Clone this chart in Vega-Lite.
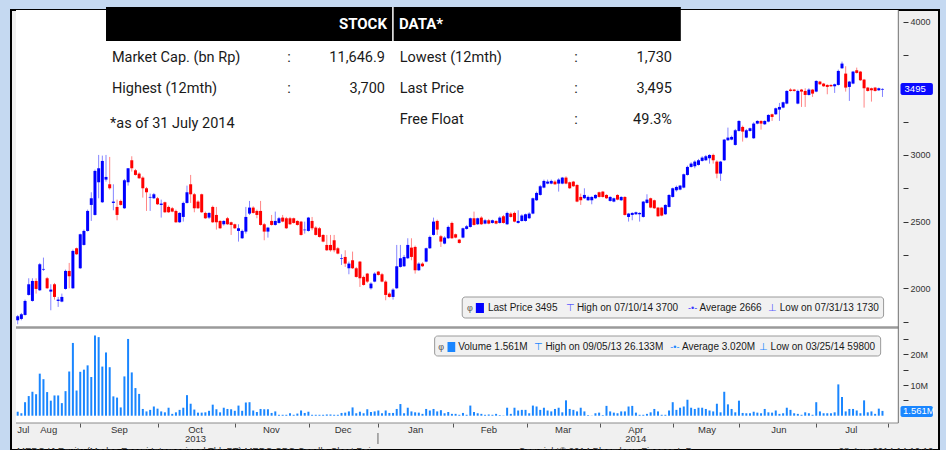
{
  "$schema": "https://vega.github.io/schema/vega-lite/v6.json",
  "width": 928,
  "height": 440,
  "autosize": {"type": "none"},
  "padding": {"left": 11, "top": 10, "right": 7, "bottom": 0},
  "background": "#c5d9f1",
  "config": {
    "view": {"fill": "#f0f0f0", "stroke": "#000000", "strokeWidth": 2},
    "text": {"font": "Liberation Sans", "fontSize": 10, "color": "#1a1a1a"},
    "axis": {"grid": false, "domain": false, "labelFont": "Liberation Sans", "labelColor": "#333333", "tickColor": "#333333", "zindex": 1}
  },
  "datasets": {
    "px": [
      {"i":0,"o":1760,"h":1800,"l":1730,"c":1790,"v":1.3},
      {"i":1,"o":1770,"h":1815,"l":1760,"c":1805,"v":0.8},
      {"i":2,"o":1800,"h":1915,"l":1795,"c":1905,"v":4.4},
      {"i":3,"o":1950,"h":2075,"l":1945,"c":2030,"v":6.4},
      {"i":4,"o":1905,"h":2075,"l":1900,"c":2055,"v":7.8},
      {"i":5,"o":2055,"h":2075,"l":1960,"c":1995,"v":7.0},
      {"i":6,"o":1985,"h":2190,"l":1980,"c":2180,"v":13.7},
      {"i":7,"o":2140,"h":2230,"l":2130,"c":2145,"v":11.9},
      {"i":8,"o":2075,"h":2085,"l":1995,"c":2000,"v":7.7},
      {"i":9,"o":1975,"h":2030,"l":1835,"c":1990,"v":4.9},
      {"i":10,"o":2030,"h":2040,"l":1915,"c":1935,"v":6.6},
      {"i":11,"o":1905,"h":1935,"l":1860,"c":1915,"v":6.6},
      {"i":12,"o":1900,"h":1960,"l":1895,"c":1935,"v":4.1},
      {"i":13,"o":1995,"h":2140,"l":1990,"c":2130,"v":8.0},
      {"i":14,"o":2130,"h":2190,"l":2000,"c":2090,"v":14.4},
      {"i":15,"o":2000,"h":2290,"l":1995,"c":2280,"v":23.7},
      {"i":16,"o":2300,"h":2305,"l":2250,"c":2255,"v":8.2},
      {"i":17,"o":2150,"h":2410,"l":2145,"c":2405,"v":14.3},
      {"i":18,"o":2325,"h":2440,"l":2320,"c":2430,"v":15.0},
      {"i":19,"o":2430,"h":2590,"l":2425,"c":2580,"v":16.4},
      {"i":20,"o":2625,"h":2720,"l":2505,"c":2675,"v":12.6},
      {"i":21,"o":2550,"h":2890,"l":2545,"c":2880,"v":26.133},
      {"i":22,"o":2795,"h":3000,"l":2675,"c":2900,"v":25.6},
      {"i":23,"o":2645,"h":2995,"l":2640,"c":2955,"v":16.0},
      {"i":24,"o":2815,"h":3000,"l":2800,"c":2835,"v":20.6},
      {"i":25,"o":2780,"h":2985,"l":2740,"c":2750,"v":15.8},
      {"i":26,"o":2640,"h":2780,"l":2585,"c":2650,"v":6.3},
      {"i":27,"o":2610,"h":2665,"l":2510,"c":2550,"v":5.9},
      {"i":28,"o":2655,"h":2665,"l":2620,"c":2625,"v":2.7},
      {"i":29,"o":2600,"h":2820,"l":2595,"c":2810,"v":12.8},
      {"i":30,"o":2795,"h":2900,"l":2770,"c":2900,"v":25.0},
      {"i":31,"o":2960,"h":2990,"l":2875,"c":2900,"v":14.1},
      {"i":32,"o":2885,"h":2895,"l":2845,"c":2850,"v":9.0},
      {"i":33,"o":2860,"h":2870,"l":2820,"c":2825,"v":7.1},
      {"i":34,"o":2830,"h":2840,"l":2680,"c":2750,"v":2.2},
      {"i":35,"o":2750,"h":2760,"l":2580,"c":2720,"v":1.4},
      {"i":36,"o":2680,"h":2710,"l":2580,"c":2685,"v":1.9},
      {"i":37,"o":2675,"h":2715,"l":2670,"c":2705,"v":3.0},
      {"i":38,"o":2675,"h":2685,"l":2625,"c":2630,"v":2.3},
      {"i":39,"o":2625,"h":2665,"l":2530,"c":2635,"v":1.4},
      {"i":40,"o":2645,"h":2650,"l":2565,"c":2570,"v":1.1},
      {"i":41,"o":2610,"h":2620,"l":2565,"c":2570,"v":2.6},
      {"i":42,"o":2600,"h":2610,"l":2570,"c":2575,"v":0.6},
      {"i":43,"o":2580,"h":2590,"l":2490,"c":2495,"v":1.1},
      {"i":44,"o":2495,"h":2570,"l":2490,"c":2565,"v":1.9},
      {"i":45,"o":2535,"h":2650,"l":2500,"c":2640,"v":2.6},
      {"i":46,"o":2640,"h":2770,"l":2635,"c":2720,"v":6.7},
      {"i":47,"o":2780,"h":2850,"l":2640,"c":2705,"v":3.9},
      {"i":48,"o":2705,"h":2715,"l":2570,"c":2600,"v":2.0},
      {"i":49,"o":2650,"h":2660,"l":2595,"c":2600,"v":1.0},
      {"i":50,"o":2705,"h":2710,"l":2565,"c":2570,"v":1.0},
      {"i":51,"o":2565,"h":2575,"l":2520,"c":2525,"v":1.1},
      {"i":52,"o":2530,"h":2570,"l":2520,"c":2565,"v":1.6},
      {"i":53,"o":2610,"h":2620,"l":2490,"c":2495,"v":3.6},
      {"i":54,"o":2550,"h":2610,"l":2440,"c":2495,"v":2.1},
      {"i":55,"o":2505,"h":2510,"l":2445,"c":2450,"v":1.1},
      {"i":56,"o":2480,"h":2510,"l":2470,"c":2505,"v":2.6},
      {"i":57,"o":2525,"h":2535,"l":2475,"c":2480,"v":2.2},
      {"i":58,"o":2495,"h":2500,"l":2400,"c":2475,"v":2.1},
      {"i":59,"o":2480,"h":2485,"l":2445,"c":2450,"v":1.6},
      {"i":60,"o":2430,"h":2480,"l":2350,"c":2450,"v":3.3},
      {"i":61,"o":2375,"h":2440,"l":2370,"c":2430,"v":1.6},
      {"i":62,"o":2425,"h":2610,"l":2410,"c":2535,"v":4.3},
      {"i":63,"o":2560,"h":2655,"l":2550,"c":2605,"v":4.4},
      {"i":64,"o":2605,"h":2615,"l":2560,"c":2565,"v":1.7},
      {"i":65,"o":2580,"h":2590,"l":2525,"c":2550,"v":1.2},
      {"i":66,"o":2580,"h":2655,"l":2470,"c":2475,"v":2.2},
      {"i":67,"o":2480,"h":2490,"l":2360,"c":2425,"v":2.1},
      {"i":68,"o":2425,"h":2460,"l":2380,"c":2455,"v":2.1},
      {"i":69,"o":2505,"h":2550,"l":2470,"c":2475,"v":0.9},
      {"i":70,"o":2475,"h":2575,"l":2470,"c":2505,"v":1.4},
      {"i":71,"o":2490,"h":2535,"l":2485,"c":2525,"v":0.3},
      {"i":72,"o":2530,"h":2550,"l":2495,"c":2500,"v":0.3},
      {"i":73,"o":2525,"h":2535,"l":2445,"c":2450,"v":0.3},
      {"i":74,"o":2525,"h":2535,"l":2475,"c":2480,"v":0.8},
      {"i":75,"o":2525,"h":2530,"l":2485,"c":2490,"v":0.3},
      {"i":76,"o":2505,"h":2510,"l":2470,"c":2475,"v":0.7},
      {"i":77,"o":2500,"h":2505,"l":2395,"c":2400,"v":1.7},
      {"i":78,"o":2435,"h":2500,"l":2410,"c":2440,"v":0.9},
      {"i":79,"o":2430,"h":2535,"l":2425,"c":2530,"v":1.3},
      {"i":80,"o":2505,"h":2535,"l":2435,"c":2450,"v":0.3},
      {"i":81,"o":2455,"h":2465,"l":2395,"c":2400,"v":0.3},
      {"i":82,"o":2450,"h":2460,"l":2380,"c":2385,"v":0.3},
      {"i":83,"o":2400,"h":2405,"l":2345,"c":2350,"v":0.3},
      {"i":84,"o":2325,"h":2400,"l":2280,"c":2285,"v":0.4},
      {"i":85,"o":2325,"h":2400,"l":2275,"c":2285,"v":0.4},
      {"i":86,"o":2360,"h":2400,"l":2270,"c":2285,"v":0.3},
      {"i":87,"o":2300,"h":2310,"l":2255,"c":2260,"v":0.3},
      {"i":88,"o":2220,"h":2255,"l":2175,"c":2225,"v":0.9},
      {"i":89,"o":2235,"h":2285,"l":2160,"c":2185,"v":1.0},
      {"i":90,"o":2150,"h":2200,"l":2105,"c":2185,"v":1.4},
      {"i":91,"o":2210,"h":2275,"l":2145,"c":2150,"v":2.7},
      {"i":92,"o":2150,"h":2160,"l":2080,"c":2085,"v":0.8},
      {"i":93,"o":2200,"h":2205,"l":2010,"c":2075,"v":1.3},
      {"i":94,"o":2085,"h":2095,"l":2020,"c":2025,"v":0.8},
      {"i":95,"o":2110,"h":2115,"l":2040,"c":2050,"v":2.1},
      {"i":96,"o":2000,"h":2045,"l":1990,"c":2035,"v":1.2},
      {"i":97,"o":2050,"h":2120,"l":2045,"c":2110,"v":1.4},
      {"i":98,"o":2125,"h":2130,"l":2095,"c":2100,"v":1.7},
      {"i":99,"o":2105,"h":2115,"l":2045,"c":2050,"v":0.8},
      {"i":100,"o":2050,"h":2060,"l":1910,"c":1950,"v":1.7},
      {"i":101,"o":1960,"h":1970,"l":1930,"c":1935,"v":0.9},
      {"i":102,"o":1935,"h":2000,"l":1915,"c":1990,"v":0.9},
      {"i":103,"o":2000,"h":2325,"l":1995,"c":2165,"v":2.2},
      {"i":104,"o":2160,"h":2325,"l":2155,"c":2225,"v":3.8},
      {"i":105,"o":2165,"h":2250,"l":2160,"c":2235,"v":0.8},
      {"i":106,"o":2225,"h":2375,"l":2220,"c":2325,"v":2.6},
      {"i":107,"o":2305,"h":2375,"l":2210,"c":2235,"v":1.4},
      {"i":108,"o":2310,"h":2320,"l":2110,"c":2135,"v":1.1},
      {"i":109,"o":2135,"h":2195,"l":2130,"c":2185,"v":1.0},
      {"i":110,"o":2185,"h":2195,"l":2160,"c":2165,"v":0.6},
      {"i":111,"o":2200,"h":2305,"l":2195,"c":2300,"v":2.2},
      {"i":112,"o":2300,"h":2395,"l":2295,"c":2385,"v":1.7},
      {"i":113,"o":2400,"h":2530,"l":2395,"c":2500,"v":2.2},
      {"i":114,"o":2505,"h":2515,"l":2400,"c":2440,"v":1.4},
      {"i":115,"o":2390,"h":2400,"l":2310,"c":2350,"v":1.8},
      {"i":116,"o":2335,"h":2390,"l":2330,"c":2380,"v":0.8},
      {"i":117,"o":2375,"h":2470,"l":2370,"c":2460,"v":1.2},
      {"i":118,"o":2490,"h":2500,"l":2370,"c":2375,"v":0.6},
      {"i":119,"o":2405,"h":2410,"l":2375,"c":2380,"v":0.6},
      {"i":120,"o":2365,"h":2370,"l":2335,"c":2340,"v":0.3},
      {"i":121,"o":2380,"h":2455,"l":2375,"c":2450,"v":0.9},
      {"i":122,"o":2445,"h":2475,"l":2440,"c":2465,"v":0.3},
      {"i":123,"o":2460,"h":2530,"l":2455,"c":2525,"v":3.3},
      {"i":124,"o":2525,"h":2575,"l":2470,"c":2475,"v":1.2},
      {"i":125,"o":2480,"h":2530,"l":2475,"c":2525,"v":0.8},
      {"i":126,"o":2530,"h":2540,"l":2475,"c":2480,"v":0.6},
      {"i":127,"o":2485,"h":2520,"l":2480,"c":2510,"v":0.3},
      {"i":128,"o":2510,"h":2520,"l":2480,"c":2485,"v":0.4},
      {"i":129,"o":2490,"h":2515,"l":2485,"c":2510,"v":0.3},
      {"i":130,"o":2505,"h":2510,"l":2480,"c":2485,"v":0.6},
      {"i":131,"o":2490,"h":2540,"l":2485,"c":2530,"v":0.2},
      {"i":132,"o":2540,"h":2550,"l":2485,"c":2490,"v":0.1},
      {"i":133,"o":2480,"h":2575,"l":2475,"c":2565,"v":2.6},
      {"i":134,"o":2560,"h":2570,"l":2530,"c":2535,"v":0.6},
      {"i":135,"o":2565,"h":2575,"l":2495,"c":2500,"v":2.6},
      {"i":136,"o":2490,"h":2585,"l":2485,"c":2505,"v":1.7},
      {"i":137,"o":2505,"h":2555,"l":2500,"c":2545,"v":1.9},
      {"i":138,"o":2505,"h":2560,"l":2500,"c":2555,"v":1.9},
      {"i":139,"o":2525,"h":2570,"l":2520,"c":2560,"v":0.8},
      {"i":140,"o":2560,"h":2680,"l":2555,"c":2675,"v":3.3},
      {"i":141,"o":2660,"h":2725,"l":2655,"c":2715,"v":3.0},
      {"i":142,"o":2700,"h":2775,"l":2695,"c":2765,"v":1.9},
      {"i":143,"o":2755,"h":2815,"l":2750,"c":2805,"v":2.6},
      {"i":144,"o":2785,"h":2815,"l":2780,"c":2800,"v":1.7},
      {"i":145,"o":2785,"h":2815,"l":2780,"c":2805,"v":1.4},
      {"i":146,"o":2800,"h":2810,"l":2775,"c":2780,"v":2.2},
      {"i":147,"o":2785,"h":2825,"l":2725,"c":2815,"v":2.6},
      {"i":148,"o":2785,"h":2835,"l":2780,"c":2830,"v":1.1},
      {"i":149,"o":2830,"h":2840,"l":2780,"c":2785,"v":5.0},
      {"i":150,"o":2795,"h":2800,"l":2745,"c":2750,"v":2.2},
      {"i":151,"o":2800,"h":2805,"l":2760,"c":2765,"v":1.9},
      {"i":152,"o":2775,"h":2780,"l":2645,"c":2650,"v":1.4},
      {"i":153,"o":2685,"h":2710,"l":2625,"c":2660,"v":2.6},
      {"i":154,"o":2675,"h":2750,"l":2670,"c":2700,"v":1.4},
      {"i":155,"o":2660,"h":2695,"l":2655,"c":2685,"v":0.2},
      {"i":156,"o":2660,"h":2690,"l":2630,"c":2685,"v":0.0598},
      {"i":157,"o":2675,"h":2705,"l":2670,"c":2700,"v":0.8},
      {"i":158,"o":2720,"h":2725,"l":2680,"c":2685,"v":1.0},
      {"i":159,"o":2725,"h":2730,"l":2680,"c":2685,"v":0.2},
      {"i":160,"o":2700,"h":2705,"l":2670,"c":2675,"v":3.2},
      {"i":161,"o":2655,"h":2690,"l":2650,"c":2685,"v":1.4},
      {"i":162,"o":2650,"h":2680,"l":2645,"c":2675,"v":1.0},
      {"i":163,"o":2700,"h":2705,"l":2660,"c":2665,"v":0.8},
      {"i":164,"o":2660,"h":2690,"l":2655,"c":2685,"v":1.4},
      {"i":165,"o":2685,"h":2690,"l":2545,"c":2550,"v":1.4},
      {"i":166,"o":2535,"h":2565,"l":2500,"c":2560,"v":3.0},
      {"i":167,"o":2550,"h":2570,"l":2510,"c":2565,"v":3.2},
      {"i":168,"o":2555,"h":2575,"l":2550,"c":2570,"v":1.0},
      {"i":169,"o":2555,"h":2570,"l":2500,"c":2565,"v":0.3},
      {"i":170,"o":2535,"h":2655,"l":2530,"c":2650,"v":0.3},
      {"i":171,"o":2640,"h":2705,"l":2635,"c":2665,"v":0.6},
      {"i":172,"o":2675,"h":2680,"l":2600,"c":2605,"v":1.1},
      {"i":173,"o":2660,"h":2665,"l":2595,"c":2600,"v":2.2},
      {"i":174,"o":2605,"h":2610,"l":2535,"c":2540,"v":1.4},
      {"i":175,"o":2605,"h":2610,"l":2540,"c":2545,"v":0.3},
      {"i":176,"o":2555,"h":2630,"l":2550,"c":2625,"v":0.3},
      {"i":177,"o":2610,"h":2705,"l":2605,"c":2700,"v":1.7},
      {"i":178,"o":2685,"h":2755,"l":2680,"c":2750,"v":4.4},
      {"i":179,"o":2735,"h":2770,"l":2725,"c":2760,"v":1.9},
      {"i":180,"o":2740,"h":2775,"l":2735,"c":2770,"v":2.6},
      {"i":181,"o":2755,"h":2860,"l":2750,"c":2855,"v":3.0},
      {"i":182,"o":2850,"h":2920,"l":2845,"c":2910,"v":5.2},
      {"i":183,"o":2910,"h":2945,"l":2905,"c":2935,"v":2.6},
      {"i":184,"o":2915,"h":2960,"l":2900,"c":2950,"v":2.2},
      {"i":185,"o":2925,"h":2970,"l":2920,"c":2960,"v":2.6},
      {"i":186,"o":2955,"h":2990,"l":2950,"c":2980,"v":2.6},
      {"i":187,"o":2960,"h":3000,"l":2955,"c":2990,"v":2.2},
      {"i":188,"o":2975,"h":3005,"l":2935,"c":3000,"v":1.7},
      {"i":189,"o":3000,"h":3010,"l":2935,"c":2960,"v":1.4},
      {"i":190,"o":2950,"h":2960,"l":2825,"c":2860,"v":3.9},
      {"i":191,"o":2860,"h":2955,"l":2805,"c":2950,"v":1.1},
      {"i":192,"o":2960,"h":3120,"l":2955,"c":3115,"v":7.8},
      {"i":193,"o":3110,"h":3205,"l":3105,"c":3130,"v":3.7},
      {"i":194,"o":3115,"h":3145,"l":3110,"c":3135,"v":2.2},
      {"i":195,"o":3075,"h":3195,"l":3070,"c":3185,"v":1.1},
      {"i":196,"o":3180,"h":3260,"l":3175,"c":3255,"v":4.9},
      {"i":197,"o":3210,"h":3220,"l":3100,"c":3175,"v":0.9},
      {"i":198,"o":3130,"h":3195,"l":3125,"c":3185,"v":0.8},
      {"i":199,"o":3180,"h":3205,"l":3175,"c":3200,"v":0.8},
      {"i":200,"o":3125,"h":3245,"l":3120,"c":3235,"v":1.3},
      {"i":201,"o":3235,"h":3260,"l":3230,"c":3255,"v":1.0},
      {"i":202,"o":3255,"h":3260,"l":3190,"c":3235,"v":0.8},
      {"i":203,"o":3230,"h":3260,"l":3225,"c":3255,"v":2.2},
      {"i":204,"o":3250,"h":3305,"l":3245,"c":3300,"v":1.1},
      {"i":205,"o":3305,"h":3310,"l":3255,"c":3285,"v":1.0},
      {"i":206,"o":3305,"h":3355,"l":3300,"c":3350,"v":1.7},
      {"i":207,"o":3340,"h":3390,"l":3255,"c":3360,"v":0.6},
      {"i":208,"o":3355,"h":3400,"l":3350,"c":3395,"v":0.8},
      {"i":209,"o":3385,"h":3485,"l":3380,"c":3480,"v":2.6},
      {"i":210,"o":3490,"h":3500,"l":3475,"c":3480,"v":1.9},
      {"i":211,"o":3490,"h":3495,"l":3475,"c":3480,"v":0.8},
      {"i":212,"o":3385,"h":3490,"l":3380,"c":3480,"v":0.6},
      {"i":213,"o":3490,"h":3495,"l":3360,"c":3475,"v":0.3},
      {"i":214,"o":3480,"h":3500,"l":3360,"c":3450,"v":1.1},
      {"i":215,"o":3450,"h":3500,"l":3445,"c":3490,"v":0.8},
      {"i":216,"o":3490,"h":3495,"l":3435,"c":3460,"v":0.3},
      {"i":217,"o":3475,"h":3560,"l":3470,"c":3555,"v":4.4},
      {"i":218,"o":3550,"h":3555,"l":3525,"c":3530,"v":1.4},
      {"i":219,"o":3535,"h":3540,"l":3510,"c":3515,"v":0.8},
      {"i":220,"o":3525,"h":3530,"l":3455,"c":3510,"v":0.8},
      {"i":221,"o":3525,"h":3530,"l":3510,"c":3515,"v":0.8},
      {"i":222,"o":3515,"h":3535,"l":3465,"c":3530,"v":1.1},
      {"i":223,"o":3525,"h":3640,"l":3520,"c":3630,"v":10.2},
      {"i":224,"o":3650,"h":3700,"l":3645,"c":3685,"v":6.1},
      {"i":225,"o":3610,"h":3665,"l":3475,"c":3505,"v":1.4},
      {"i":226,"o":3510,"h":3555,"l":3405,"c":3550,"v":2.2},
      {"i":227,"o":3535,"h":3630,"l":3530,"c":3625,"v":2.2},
      {"i":228,"o":3635,"h":3655,"l":3610,"c":3615,"v":1.7},
      {"i":229,"o":3625,"h":3630,"l":3555,"c":3560,"v":0.8},
      {"i":230,"o":3565,"h":3570,"l":3355,"c":3500,"v":5.0},
      {"i":231,"o":3505,"h":3510,"l":3475,"c":3480,"v":1.1},
      {"i":232,"o":3500,"h":3505,"l":3400,"c":3485,"v":1.4},
      {"i":233,"o":3505,"h":3510,"l":3475,"c":3480,"v":0.6},
      {"i":234,"o":3485,"h":3505,"l":3480,"c":3500,"v":2.3},
      {"i":235,"o":3490,"h":3500,"l":3435,"c":3495,"v":1.561}
    ]
  },
  "resolve": {"scale": {"y": "independent"}, "axis": {"y": "independent", "x": "independent"}},
  "layer": [
    {
      "layer": [
        {"data": {"values": [{}]}, "mark": {"type": "rect", "fill": "#ffffff"},
         "encoding": {"x": {"datum": -0.46}, "x2": {"datum": 239.3}, "y": {"datum": 4087}, "y2": {"datum": 989.5}}},
        {"data": {"values": [{}]}, "mark": {"type": "rule", "color": "#9a9a9a", "strokeWidth": 2.5},
         "encoding": {"x": {"datum": -0.46}, "x2": {"datum": 239.3}, "y": {"datum": 1706}}},
        {"data": {"values": [{}]}, "mark": {"type": "rule", "color": "#6e6e6e", "strokeWidth": 1},
         "encoding": {"x": {"datum": 239.3}, "y": {"datum": 4087}, "y2": {"datum": 989.5}}},
        {"data": {"values": [{}]}, "mark": {"type": "rule", "color": "#8a8a8a", "strokeWidth": 1},
         "encoding": {"x": {"datum": -0.46}, "x2": {"datum": 239.3}, "y": {"datum": 989.5}}},
        {"data": {"values": [{}]}, "mark": {"type": "rect", "fill": "#000000"},
         "encoding": {"x": {"datum": 24.0}, "x2": {"datum": 180.2}, "y": {"datum": 4109.5}, "y2": {"datum": 3854.5}}},
        {"data": {"values": [{}]}, "mark": {"type": "rule", "color": "#ffffff", "strokeWidth": 1.5},
         "encoding": {"x": {"datum": 101.96}, "y": {"datum": 4109.5}, "y2": {"datum": 3854.5}}},
        {"data": {"values": [{}]}, "mark": {"type": "text", "text": "STOCK", "align": "right", "baseline": "alphabetic", "font": "Roboto", "fontSize": 15, "fontWeight": "bold", "color": "#ffffff"},
         "encoding": {"x": {"datum": 100.35}, "y": {"datum": 3941}}},
        {"data": {"values": [{}]}, "mark": {"type": "text", "text": "DATA*", "align": "left", "baseline": "alphabetic", "font": "Roboto", "fontSize": 15, "fontWeight": "bold", "color": "#ffffff"},
         "encoding": {"x": {"datum": 103.6}, "y": {"datum": 3941}}},
        {"data": {"values": [{}]}, "mark": {"type": "text", "text": ["Market Cap. (bn Rp)", "Highest (12mth)"], "lineHeight": 31, "align": "left", "baseline": "alphabetic", "font": "Roboto", "fontSize": 14.5, "color": "#1a1a1a"},
         "encoding": {"x": {"datum": 25.6}, "y": {"datum": 3694}}},
        {"data": {"values": [{}]}, "mark": {"type": "text", "text": [":", ":"], "lineHeight": 31, "align": "center", "baseline": "alphabetic", "font": "Roboto", "fontSize": 14.5, "color": "#1a1a1a"},
         "encoding": {"x": {"datum": 73.7}, "y": {"datum": 3694}}},
        {"data": {"values": [{}]}, "mark": {"type": "text", "text": ["11,646.9", "3,700"], "lineHeight": 31, "align": "right", "baseline": "alphabetic", "font": "Roboto", "fontSize": 14.5, "color": "#1a1a1a"},
         "encoding": {"x": {"datum": 99.8}, "y": {"datum": 3694}}},
        {"data": {"values": [{}]}, "mark": {"type": "text", "text": ["Lowest (12mth)", "Last Price", "Free Float"], "lineHeight": 31, "align": "left", "baseline": "alphabetic", "font": "Roboto", "fontSize": 14.5, "color": "#1a1a1a"},
         "encoding": {"x": {"datum": 103.8}, "y": {"datum": 3694}}},
        {"data": {"values": [{}]}, "mark": {"type": "text", "text": [":", ":", ":"], "lineHeight": 31, "align": "center", "baseline": "alphabetic", "font": "Roboto", "fontSize": 14.5, "color": "#1a1a1a"},
         "encoding": {"x": {"datum": 151.7}, "y": {"datum": 3694}}},
        {"data": {"values": [{}]}, "mark": {"type": "text", "text": ["1,730", "3,495", "49.3%"], "lineHeight": 31, "align": "right", "baseline": "alphabetic", "font": "Roboto", "fontSize": 14.5, "color": "#1a1a1a"},
         "encoding": {"x": {"datum": 177.8}, "y": {"datum": 3694}}},
        {"data": {"values": [{}]}, "mark": {"type": "text", "text": "*as of 31 July 2014", "align": "left", "baseline": "alphabetic", "font": "Roboto", "fontSize": 14.5, "color": "#1a1a1a"},
         "encoding": {"x": {"datum": 25.1}, "y": {"datum": 3204}}},
        {"data": {"name": "px"}, "mark": {"type": "rule", "strokeWidth": 1},
         "encoding": {
           "x": {"field": "i", "type": "quantitative", "scale": {"domain": [-0.46, 249.0], "nice": false, "zero": false},
                 "axis": {"orient": "bottom", "offset": -27, "title": null, "ticks": false, "labelPadding": 1, "labelFontSize": 9.5, "labelOverlap": false, "labelFlush": false, "labelBound": false, "labelLineHeight": 9.5,
                          "values": [1.4, 8.3, 27.5, 48.2, 68.8, 88.3, 108.0, 127.9, 148.1, 167.8, 187.2, 206.7, 226.4],
                          "labelExpr": "datum.value < 5 ? 'Jul' : datum.value < 15 ? 'Aug' : datum.value < 35 ? 'Sep' : datum.value < 55 ? ['Oct','2013'] : datum.value < 75 ? 'Nov' : datum.value < 95 ? 'Dec' : datum.value < 115 ? 'Jan' : datum.value < 135 ? 'Feb' : datum.value < 155 ? 'Mar' : datum.value < 175 ? ['Apr','2014'] : datum.value < 195 ? 'May' : datum.value < 215 ? 'Jun' : 'Jul'"}},
           "y": {"field": "l", "type": "quantitative", "scale": {"domain": [787, 4087], "nice": false, "zero": false},
                 "axis": {"orient": "right", "offset": -36, "title": null, "tickSize": 5, "labelPadding": 2, "labelFontSize": 9, "format": "d",
                          "values": [1750, 2000, 2250, 2500, 2750, 3000, 3250, 3500, 3750, 4000],
                          "labelExpr": "datum.value % 500 == 0 && datum.value != 3500 ? datum.label : ''"}},
           "y2": {"field": "h"},
           "color": {"condition": {"test": "datum.c >= datum.o", "value": "#8585ff"}, "value": "#ff8585"}
         }},
        {"data": {"name": "px"}, "mark": {"type": "bar"},
         "encoding": {
           "x": {"field": "i", "type": "quantitative"},
           "y": {"field": "o", "type": "quantitative"},
           "y2": {"field": "c"},
           "size": {"value": 3},
           "color": {"condition": {"test": "datum.c >= datum.o", "value": "#0000ff"}, "value": "#ff0000"}
         }},
        {"data": {"values": [{}]}, "mark": {"type": "rect", "fill": "#f1f1f1", "stroke": "#9a9a9a", "strokeWidth": 1, "cornerRadius": 3},
         "encoding": {"x": {"datum": 120.8}, "x2": {"datum": 235.3}, "y": {"datum": 1934.5}, "y2": {"datum": 1777}}},
        {"data": {"values": [{}]}, "mark": {"type": "text", "text": "φ", "align": "center", "baseline": "middle", "fontSize": 9, "color": "#555555"},
         "encoding": {"x": {"datum": 122.9}, "y": {"datum": 1852}}},
        {"data": {"values": [{}]}, "mark": {"type": "rect", "fill": "#0000ff"},
         "encoding": {"x": {"datum": 124.5}, "x2": {"datum": 126.7}, "y": {"datum": 1889.5}, "y2": {"datum": 1814.5}}},
        {"data": {"values": [{}]}, "mark": {"type": "text", "text": "Last Price 3495", "align": "left", "baseline": "middle"},
         "encoding": {"x": {"datum": 127.8}, "y": {"datum": 1852}}},
        {"data": {"values": [{}]}, "mark": {"type": "text", "text": "⊤", "align": "center", "baseline": "middle", "color": "#5a5aff"},
         "encoding": {"x": {"datum": 150.1}, "y": {"datum": 1852}}},
        {"data": {"values": [{}]}, "mark": {"type": "text", "text": "High on 07/10/14 3700", "align": "left", "baseline": "middle"},
         "encoding": {"x": {"datum": 151.96}, "y": {"datum": 1852}}},
        {"data": {"values": [{}]}, "mark": {"type": "text", "text": "-•-", "align": "center", "baseline": "middle", "color": "#3a3aff", "fontSize": 9},
         "encoding": {"x": {"datum": 183.4}, "y": {"datum": 1852}}},
        {"data": {"values": [{}]}, "mark": {"type": "text", "text": "Average 2666", "align": "left", "baseline": "middle"},
         "encoding": {"x": {"datum": 185.3}, "y": {"datum": 1852}}},
        {"data": {"values": [{}]}, "mark": {"type": "text", "text": "⊥", "align": "center", "baseline": "middle", "color": "#5a5aff"},
         "encoding": {"x": {"datum": 205.2}, "y": {"datum": 1852}}},
        {"data": {"values": [{}]}, "mark": {"type": "text", "text": "Low on 07/31/13 1730", "align": "left", "baseline": "middle"},
         "encoding": {"x": {"datum": 207.1}, "y": {"datum": 1852}}},
        {"data": {"values": [{}]}, "mark": {"type": "rect", "fill": "#0a0aff", "cornerRadius": 2},
         "encoding": {"x": {"datum": 239.9}, "x2": {"datum": 248.7}, "y": {"datum": 3539.5}, "y2": {"datum": 3449.5}}},
        {"data": {"values": [{}]}, "mark": {"type": "text", "text": "3495", "align": "left", "baseline": "middle", "fontSize": 9.5, "color": "#ffffff"},
         "encoding": {"x": {"datum": 241.0}, "y": {"datum": 3495}}},
        {"data": {"values": [{}]}, "mark": {"type": "rule", "color": "#666666", "strokeWidth": 1},
         "encoding": {"x": {"datum": 97.9}, "y": {"datum": 914.5}, "y2": {"datum": 832}}},
        {"data": {"values": [{}]}, "mark": {"type": "text", "text": "MEDC IJ Equity (Medco Energi Internasional Tbk PT) MEDC CPC Candle Chart     Dai", "align": "left", "baseline": "top", "fontSize": 9.5, "color": "#333333"},
         "encoding": {"x": {"datum": -0.19}, "y": {"datum": 818}}},
        {"data": {"values": [{}]}, "mark": {"type": "text", "text": "Copyright© 2014 Bloomberg Finance L.P.", "align": "left", "baseline": "top", "fontSize": 9.5, "color": "#333333"},
         "encoding": {"x": {"datum": 136.1}, "y": {"datum": 818}}},
        {"data": {"values": [{}]}, "mark": {"type": "text", "text": "28-Aug-2014 14:10:10", "align": "left", "baseline": "top", "fontSize": 9.5, "color": "#333333"},
         "encoding": {"x": {"datum": 223.1}, "y": {"datum": 818}}}
      ]
    },
    {
      "layer": [
        {"data": {"name": "px"}, "mark": {"type": "bar", "color": "#1a86ff"},
         "encoding": {
           "x": {"field": "i", "type": "quantitative",
                 "axis": {"orient": "bottom", "offset": -27, "title": null, "labels": false, "ticks": true, "tickSize": 4, "tickColor": "#555555",
                          "values": [17.0, 38.0, 59.0, 79.1, 97.9, 118.4, 138.3, 158.2, 178.0, 196.0, 217.0, 236.4]}},
           "y": {"field": "v", "type": "quantitative", "scale": {"domain": [-11.17, 132.15], "nice": false, "zero": false},
                 "axis": {"orient": "right", "offset": -36, "title": null, "tickSize": 5, "labelPadding": 2, "labelFontSize": 9,
                          "values": [0, 5, 10, 15, 20, 25],
                          "labelExpr": "datum.value == 10 ? '10M' : datum.value == 20 ? '20M' : ''"}},
           "y2": {"datum": 0},
           "size": {"value": 2}
         }},
        {"data": {"values": [{}]}, "mark": {"type": "rect", "fill": "#f1f1f1", "stroke": "#9a9a9a", "strokeWidth": 1, "cornerRadius": 3},
         "encoding": {"x": {"datum": 113.3}, "x2": {"datum": 234.5}, "y": {"datum": 25.96}, "y2": {"datum": 19.45}}},
        {"data": {"values": [{}]}, "mark": {"type": "text", "text": "φ", "align": "center", "baseline": "middle", "fontSize": 9, "color": "#555555"},
         "encoding": {"x": {"datum": 115.1}, "y": {"datum": 22.54}}},
        {"data": {"values": [{}]}, "mark": {"type": "rect", "fill": "#1a86ff"},
         "encoding": {"x": {"datum": 116.8}, "x2": {"datum": 118.9}, "y": {"datum": 24.0}, "y2": {"datum": 20.75}}},
        {"data": {"values": [{}]}, "mark": {"type": "text", "text": "Volume 1.561M", "align": "left", "baseline": "middle"},
         "encoding": {"x": {"datum": 119.7}, "y": {"datum": 22.54}}},
        {"data": {"values": [{}]}, "mark": {"type": "text", "text": "⊤", "align": "center", "baseline": "middle", "color": "#1a86ff"},
         "encoding": {"x": {"datum": 141.5}, "y": {"datum": 22.54}}},
        {"data": {"values": [{}]}, "mark": {"type": "text", "text": "High on 09/05/13 26.133M", "align": "left", "baseline": "middle"},
         "encoding": {"x": {"datum": 143.4}, "y": {"datum": 22.54}}},
        {"data": {"values": [{}]}, "mark": {"type": "text", "text": "-•-", "align": "center", "baseline": "middle", "color": "#1a86ff", "fontSize": 9},
         "encoding": {"x": {"datum": 178.6}, "y": {"datum": 22.54}}},
        {"data": {"values": [{}]}, "mark": {"type": "text", "text": "Average 3.020M", "align": "left", "baseline": "middle"},
         "encoding": {"x": {"datum": 180.5}, "y": {"datum": 22.54}}},
        {"data": {"values": [{}]}, "mark": {"type": "text", "text": "⊥", "align": "center", "baseline": "middle", "color": "#1a86ff"},
         "encoding": {"x": {"datum": 202.8}, "y": {"datum": 22.54}}},
        {"data": {"values": [{}]}, "mark": {"type": "text", "text": "Low on 03/25/14 59800", "align": "left", "baseline": "middle"},
         "encoding": {"x": {"datum": 204.6}, "y": {"datum": 22.54}}},
        {"data": {"values": [{}]}, "mark": {"type": "rect", "fill": "#1a86ff", "cornerRadius": 2},
         "encoding": {"x": {"datum": 239.9}, "x2": {"datum": 248.7}, "y": {"datum": 3.16}, "y2": {"datum": -0.42}}},
        {"data": {"values": [{}]}, "mark": {"type": "text", "text": "1.561M", "align": "left", "baseline": "middle", "fontSize": 9.5, "color": "#ffffff"},
         "encoding": {"x": {"datum": 240.6}, "y": {"datum": 1.561}}}
      ]
    }
  ]
}
